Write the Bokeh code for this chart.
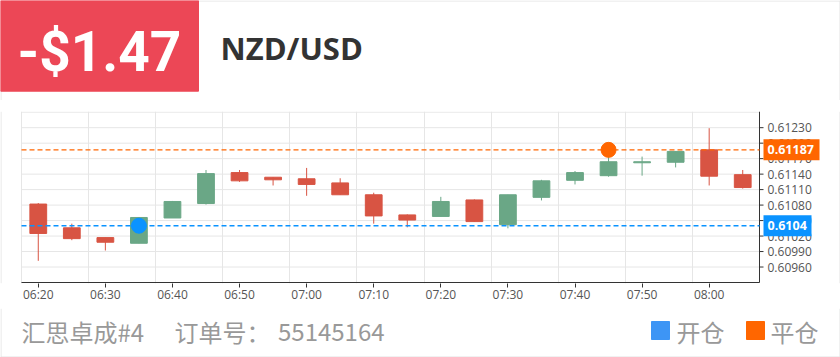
from bokeh.plotting import figure
from bokeh.models import ColumnDataSource, Range1d, FixedTicker
from bokeh.layouts import column
from bokeh.embed import file_html
from bokeh.resources import INLINE
from bokeh.core.properties import value

# ---------------- data ----------------
times = ["06:20", "06:25", "06:30", "06:35", "06:40", "06:45", "06:50", "06:55",
         "07:00", "07:05", "07:10", "07:15", "07:20", "07:25", "07:30", "07:35",
         "07:40", "07:45", "07:50", "07:55", "08:00", "08:05"]
opens = [0.61082, 0.61036, 0.61017, 0.61006, 0.61055, 0.61083, 0.61143, 0.61134,
         0.61131, 0.61123, 0.61100, 0.61061, 0.61058, 0.61090, 0.61042, 0.61095,
         0.61128, 0.61137, 0.61162, 0.61163, 0.61187, 0.61139]
closes = [0.61025, 0.61015, 0.61008, 0.61056, 0.61087, 0.61141, 0.61127, 0.61129,
          0.61120, 0.61100, 0.61059, 0.61051, 0.61087, 0.61048, 0.61100, 0.61127,
          0.61143, 0.61164, 0.61164, 0.61184, 0.61136, 0.61114]
highs = [0.61084, 0.61044, 0.61017, 0.61056, 0.61088, 0.61148, 0.61148, 0.61134,
         0.61152, 0.61132, 0.61104, 0.61062, 0.61096, 0.61091, 0.61100, 0.61129,
         0.61146, 0.61187, 0.61174, 0.61184, 0.61229, 0.61148]
lows = [0.60972, 0.61012, 0.60992, 0.61006, 0.61055, 0.61081, 0.61125, 0.61118,
        0.61098, 0.61100, 0.61044, 0.61037, 0.61058, 0.61048, 0.61035, 0.61089,
        0.61120, 0.61135, 0.61137, 0.61153, 0.61118, 0.61112]
y_ticks = [0.6096, 0.6099, 0.6102, 0.6105, 0.6108, 0.6111, 0.6114, 0.6117, 0.6120, 0.6123]
y_min, y_max = 0.6093, 0.6126
y_grid = [y_min] + y_ticks + [y_max]

open_time, open_price = "06:35", 0.6104
close_time, close_price = "07:45", 0.61187

pnl_text = "-$1.47"
symbol_text = "NZD/USD"
account_text = "汇思卓成#4"
order_label = "订单号："
order_no = "55145164"
legend_open = "开仓"
legend_close = "平仓"

# ---------------- styles / layout (pixels) ----------------
W = 840
UP = "#6aa786"
DOWN = "#d85443"
BLUE = "#0a93ff"
ORANGE = "#ff6600"
GRAY_TXT = "#999999"
AX_TXT = "#555555"
AX_LINE = "#333333"
GRID = "#e6e6e6"
BORDER = "#e3e3e3"
CJK = "Noto Sans CJK SC"

# ---------------- header ----------------
h = figure(width=W, height=100, x_range=Range1d(0, W), y_range=Range1d(100, 0),
           output_backend="svg", toolbar_location=None, min_border=0,
           x_axis_type=None, y_axis_type=None)
h.grid.visible = False
h.outline_line_color = None
h.segment(x0=[198, 839.5], y0=[0.5, 0], x1=[W, 839.5], y1=[0.5, 100], line_color=BORDER, line_width=1)
h.segment(x0=[0.5], y0=[90], x1=[0.5], y1=[100], line_color=BORDER, line_width=1)
h.quad(left=[0], right=[198], top=[0], bottom=[90.7], color="#ec4756")
h.text(x=[99], y=[51], text=[pnl_text], text_color="white",
       text_font=value("Roboto"), text_font_size=value("55px"),
       text_font_style="bold", text_align="center", text_baseline="middle")
h.text(x=[220], y=[47], text=[symbol_text], text_color="#333333",
       text_font=value("Open Sans"), text_font_size=value("31px"),
       text_font_style="bold", text_align="left", text_baseline="middle")

# ---------------- chart ----------------
n = len(times)
idx = list(range(n))
cat_px = 738 / n                    # pixel width of one category
frame_left_px = 21                  # plot area starts 21 px from the left edge
px_per_val = 170.3 / (y_max - y_min)
top_pad_px = 0.7
frame_h_px = 172
x_lo = -0.5 - frame_left_px / cat_px
x_hi = x_lo + W / cat_px
y_hi = y_max + top_pad_px / px_per_val
y_lo = y_hi - frame_h_px / px_per_val
x_axis_pos = n - 0.5

colors = [UP if c >= o else DOWN for o, c in zip(opens, closes)]
src = ColumnDataSource(dict(
    x=idx, high=highs, low=lows,
    top=[max(o, c) for o, c in zip(opens, closes)],
    bottom=[min(o, c) for o, c in zip(opens, closes)],
    color=colors))

p = figure(width=W, height=208, x_range=Range1d(x_lo, x_hi), y_range=Range1d(y_lo, y_hi),
           output_backend="svg", toolbar_location=None, y_axis_type=None,
           min_border_left=0, min_border_right=0, min_border_top=11, min_border_bottom=25)
p.outline_line_color = None
p.ygrid.visible = False
p.xgrid.ticker = FixedTicker(ticks=[i - 0.5 for i in range(0, n, 2)])
p.xgrid.grid_line_color = GRID

# horizontal grid, drawn only across the plot area
p.segment(x0=[-0.5] * len(y_grid), y0=y_grid, x1=[x_axis_pos] * len(y_grid), y1=y_grid,
          line_color=GRID, line_width=1)

# bottom (time) axis
p.xaxis.ticker = FixedTicker(ticks=idx[::2])
p.xaxis.major_label_overrides = {i: times[i] for i in idx[::2]}
p.xaxis.axis_line_color = None
p.xaxis.major_tick_line_color = AX_LINE
p.xaxis.minor_tick_line_color = None
p.xaxis.major_tick_out = 4
p.xaxis.major_tick_in = 0
p.xaxis.major_label_standoff = -2
p.xaxis.major_label_text_font = "Open Sans"
p.xaxis.major_label_text_font_size = "12px"
p.xaxis.major_label_text_color = AX_TXT
p.segment(x0=[-0.5], y0=[y_min], x1=[x_axis_pos], y1=[y_min], line_color=AX_LINE, line_width=1)

# right (price) axis
p.segment(x0=[x_axis_pos], y0=[y_min], x1=[x_axis_pos], y1=[y_hi], line_color=AX_LINE, line_width=1)
p.segment(x0=[x_axis_pos] * len(y_ticks), y0=y_ticks,
          x1=[x_axis_pos + 4 / cat_px] * len(y_ticks), y1=y_ticks,
          line_color=AX_LINE, line_width=1)
p.text(x=[x_axis_pos + 8 / cat_px] * len(y_ticks), y=y_ticks,
       text=[f"{t:.5f}" for t in y_ticks], text_color=AX_TXT,
       text_font=value("Open Sans"), text_font_size=value("12px"),
       text_align="left", text_baseline="middle")

# outer light border on the sides
p.segment(x0=[x_lo + 0.5 / cat_px, x_hi - 0.5 / cat_px], y0=[y_lo, y_lo],
          x1=[x_lo + 0.5 / cat_px, x_hi - 0.5 / cat_px], y1=[y_hi, y_hi],
          line_color=BORDER, line_width=1)

# candles
p.segment(x0="x", y0="low", x1="x", y1="high", line_color="color", line_width=1, source=src)
p.vbar(x="x", width=0.5, top="top", bottom="bottom", fill_color="color",
       line_color="color", line_width=1, source=src)

# open / close price lines and markers
for price, col in ((open_price, BLUE), (close_price, ORANGE)):
    p.segment(x0=[-0.5], y0=[price], x1=[x_axis_pos], y1=[price],
              line_color=col, line_dash="5 3", line_width=1.4)
p.scatter(x=[times.index(open_time)], y=[open_price], size=15, color=BLUE)
p.scatter(x=[times.index(close_time)], y=[close_price], size=15, color=ORANGE)

# price tags on the axis
for price, col in ((close_price, ORANGE), (open_price, BLUE)):
    label = f"{price}"
    box_w = 8 * len(label)
    p.rect(x=[x_axis_pos + (4 + box_w / 2) / cat_px], y=[price], width=box_w, height=21,
           width_units="screen", height_units="screen", fill_color=col, line_color=None)
    p.text(x=[x_axis_pos + 8 / cat_px], y=[price], text=[label], text_color="white",
           text_font=value("Open Sans"), text_font_size=value("12.5px"),
           text_font_style="bold", text_align="left", text_baseline="middle")

# ---------------- footer ----------------
f = figure(width=W, height=49, x_range=Range1d(0, W), y_range=Range1d(357, 308),
           output_backend="svg", toolbar_location=None, min_border=0,
           x_axis_type=None, y_axis_type=None)
f.grid.visible = False
f.outline_line_color = None
f.segment(x0=[0.5, 839.5, 0], y0=[308, 308, 356.5], x1=[0.5, 839.5, W], y1=[357, 357, 356.5],
          line_color=BORDER, line_width=1)
f.text(x=[21, 174, 277.5, 676, 770], y=[331] * 5,
       text=[account_text, order_label, order_no, legend_open, legend_close],
       text_color=GRAY_TXT, text_font=value(CJK), text_font_size=value("24px"),
       text_align="left", text_baseline="middle")
f.quad(left=[651, 746], right=[669, 764], top=[321, 321], bottom=[339, 339],
       color=["#3d95f5", ORANGE])

layout = column(h, p, f, spacing=0)
open("out.html", "w").write(file_html(layout, INLINE))
